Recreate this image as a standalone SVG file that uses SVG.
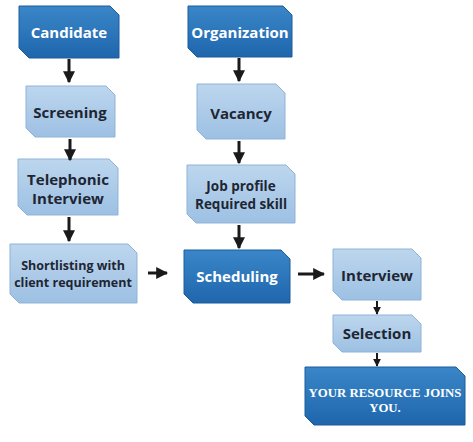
<svg xmlns="http://www.w3.org/2000/svg" width="473" height="442" viewBox="0 0 473 442">
<defs>
<linearGradient id="gd" x1="0" y1="0" x2="0" y2="1">
<stop offset="0" stop-color="#3a86c8"/><stop offset="1" stop-color="#1f66ad"/>
</linearGradient>
<linearGradient id="gl" x1="0" y1="0" x2="0" y2="1">
<stop offset="0" stop-color="#bdd6ee"/><stop offset="1" stop-color="#9dc0e3"/>
</linearGradient>
<marker id="ah" viewBox="0 0 10 10" refX="9" refY="5" markerWidth="4" markerHeight="4" orient="auto" markerUnits="strokeWidth">
<path d="M0,0 L10,5 L0,10 Z" fill="#1a1a1a"/>
</marker>
<marker id="ahs" viewBox="0 0 10 10" refX="9" refY="5" markerWidth="4" markerHeight="4" orient="auto" markerUnits="strokeWidth">
<path d="M0,0 L10,5 L0,10 Z" fill="#1a1a1a"/>
</marker>
</defs>
<style>
.dark{fill:url(#gd);stroke:#1b5c9c;stroke-width:1}
.light{fill:url(#gl);stroke:#8fb3d8;stroke-width:1}
.tw{font-family:"Open Sans","Noto Sans",sans-serif;font-weight:bold;font-size:15px;fill:#ffffff;text-anchor:middle}
.tk{font-family:"Open Sans","Noto Sans",sans-serif;font-weight:bold;font-size:15px;fill:#1e2633;text-anchor:middle}
.tm{font-size:13.5px}
.ts{font-size:12.5px}
.serif{font-family:"Liberation Serif","DejaVu Serif",serif;font-weight:bold;font-size:12.8px;fill:#ffffff;text-anchor:middle}
.c{stroke:#1a1a1a;stroke-width:3;fill:none;marker-end:url(#ah)}
.cs{stroke:#1a1a1a;stroke-width:2;fill:none;marker-end:url(#ahs)}
</style>
<rect width="473" height="442" fill="#ffffff"/>
<g id="candidate"><path class="dark" d="M19,6 H110 L119,15 V58 H29 L19,48 Z"/><text class="tw" x="69" y="38">Candidate</text></g>
<g id="screening"><path class="light" d="M26,86 H106 L115,95 V137 H35 L26,128 Z"/><text class="tk" x="70" y="118">Screening</text></g>
<g id="telephonic"><path class="light" d="M18,159 H109 L118,168 V215 H27 L18,206 Z"/><text class="tk" x="68" y="185">Telephonic</text><text class="tk" x="68" y="204">Interview</text></g>
<g id="shortlisting"><path class="light" d="M10,244 H128 L137,253 V303 H19 L10,294 Z"/><text class="tk ts" x="73" y="270">Shortlisting with</text><text class="tk ts" x="73" y="287">client requirement</text></g>
<g id="organization"><path class="dark" d="M188,6 H283 L292,15 V57 H197 L188,48 Z"/><text class="tw" x="240" y="38">Organization</text></g>
<g id="vacancy"><path class="light" d="M197,84 H276 L285,93 V139 H206 L197,130 Z"/><text class="tk" x="241" y="119">Vacancy</text></g>
<g id="jobprofile"><path class="light" d="M187,165 H286 L295,174 V223 H196 L187,214 Z"/><text class="tk tm" x="241" y="191">Job profile</text><text class="tk tm" x="241" y="209">Required skill</text></g>
<g id="scheduling"><path class="dark" d="M184,250 H281 L290,259 V303 H193 L184,294 Z"/><text class="tw" x="237" y="282">Scheduling</text></g>
<g id="interview"><path class="light" d="M333,249 H412 L421,258 V300 H342 L333,291 Z"/><text class="tk" x="377" y="281">Interview</text></g>
<g id="selection"><path class="light" d="M333,315 H412 L421,324 V352 H342 L333,343 Z"/><text class="tk" x="377" y="339">Selection</text></g>
<g id="resource"><path class="dark" d="M305,367 H456 L465,376 V425 H314 L305,416 Z"/><text class="serif" x="385" y="397">YOUR RESOURCE JOINS</text><text class="serif" x="385" y="412">YOU.</text></g>
<g id="connectors">
<line class="c" x1="69" y1="59" x2="69" y2="82"/>
<line class="c" x1="70" y1="139" x2="70" y2="160"/>
<line class="c" x1="69" y1="217" x2="69" y2="241"/>
<line class="c" x1="239" y1="58" x2="239" y2="81"/>
<line class="c" x1="239" y1="141" x2="239" y2="163"/>
<line class="c" x1="239" y1="225" x2="239" y2="248"/>
<line class="c" x1="148" y1="273" x2="167" y2="273"/>
<line class="c" x1="298" y1="274" x2="324" y2="274"/>
<line class="cs" x1="377" y1="301" x2="377" y2="314"/>
<line class="cs" x1="377" y1="353" x2="377" y2="366"/>
</g>
</svg>
